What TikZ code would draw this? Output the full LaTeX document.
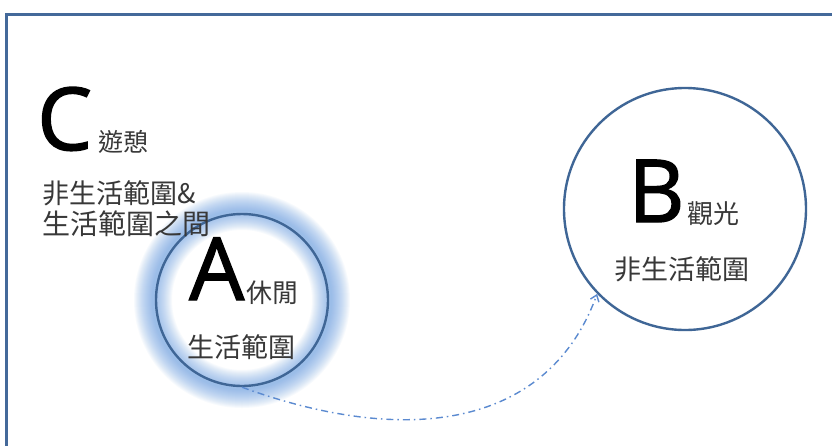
\documentclass[tikz,border=0pt]{standalone}
\usepackage{fontspec}
\newfontfamily\cjk{Noto Sans CJK TC}
\newfontfamily\lat{Open Sans}[FakeBold=1.6]
\usetikzlibrary{arrows.meta}
\definecolor{frameblue}{HTML}{44699A}
\definecolor{ringblue}{HTML}{3F6696}
\definecolor{glowblue}{HTML}{5C96E0}
\definecolor{arrowblue}{HTML}{5B8AD0}
\definecolor{txtgray}{HTML}{383838}
\tikzset{
  big/.style={inner sep=0pt, anchor=base west, font=\lat\fontsize{87}{87}\selectfont, text=black},
  cj/.style={inner sep=0pt, font=\cjk\fontsize{#1}{#1}\selectfont, text=txtgray},
  cj/.default=26,
  ring/.style={circle, draw=ringblue, line width=2.4pt, inner sep=0pt},
  link/.style={draw=arrowblue, line width=1.4pt, dash pattern=on 7pt off 4pt on 1.5pt off 4pt, -{Straight Barb[length=6pt,width=9pt]}}
}
\begin{document}
\begin{tikzpicture}[x=1pt,y=-1pt]
\useasboundingbox (0,0) rectangle (832,445);
\fill[white] (0,0) rectangle (832,445);
% frame
\draw[frameblue, line width=2.5pt] (6.5,460) -- (6.5,14.5) -- (845,14.5);
% glow around A
\foreach \i in {0,...,18}{
  \pgfmathsetmacro{\lw}{38-2*\i}
  \draw[glowblue, opacity=0.042, line width=\lw pt] (242,300) circle[radius=89];
}
\node[ring, minimum size=172pt] (A) at (242,300) {};
\node[ring, minimum size=242pt] (B) at (685,209) {};
% C block
\node[big] (Cl) at (37,150) {C};
\node[cj=25] (Ct) at (123,142) {遊憩};
\node[cj=27, anchor=west] (C1) at (42,193) {非生活範圍\&};
\node[cj=28, anchor=west] (C2) at (42,224) {生活範圍之間};
% A block
\node[big] (Al) at (189,300) {A};
\node[cj=26] (At) at (272,293) {休閒};
\node[cj=27] (As) at (241,347) {生活範圍};
% B block
\node[big] (Bl) at (628,222) {B};
\node[cj=26] (Bt) at (713,214) {觀光};
\node[cj=27] (Bs) at (682,269) {非生活範圍};
% connector
\draw[link] (A.-90) to[out=-20, in=250, out distance=180pt, in distance=140pt] (B.224);
\end{tikzpicture}
\end{document}
